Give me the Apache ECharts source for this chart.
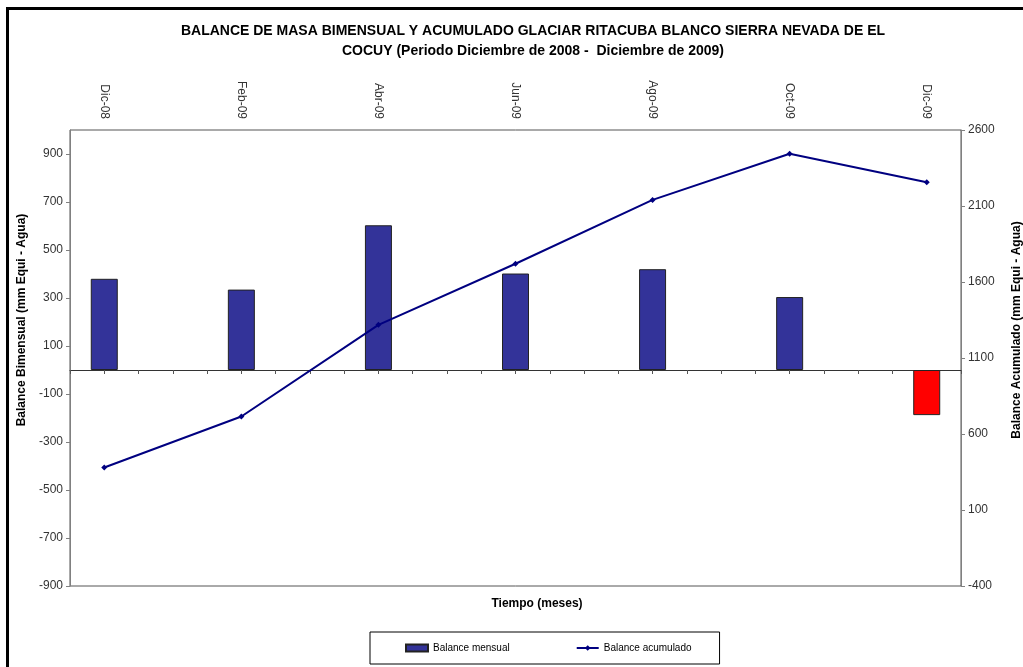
<!DOCTYPE html>
<html>
<head>
<meta charset="utf-8">
<title>Balance de masa Ritacuba Blanco</title>
<script src="https://cdn.jsdelivr.net/npm/echarts@6/dist/echarts.min.js"></script>
<style>
  html, body { margin: 0; padding: 0; background: #fff; }
  #chart { width: 1023px; height: 667px; }
</style>
</head>
<body>
<div id="chart"></div>
<script>
// meses (eje superior), solo se rotulan los bimensuales
const months = ['Dic-08', 'Ene-09', 'Feb-09', 'Mar-09', 'Abr-09', 'May-09', 'Jun-09',
  'Jul-09', 'Ago-09', 'Sep-09', 'Oct-09', 'Nov-09', 'Dic-09'];
// balance bimensual (mm eq. agua)
const balanceMensual = [380, null, 335, null, 603, null, 402, null, 420, null, 304, null, -188];
// balance acumulado (mm eq. agua)
const balanceAcumulado = [380, null, 715, null, 1318, null, 1720, null, 2140, null, 2444, null, 2256];
// marcas de los ejes
const leftTicks = [-900, -700, -500, -300, -100, 100, 300, 500, 700, 900];
const rightTicks = [-400, 100, 600, 1100, 1600, 2100, 2600];

const chart = echarts.init(document.getElementById('chart'));

const labelFont = {fontFamily: 'Liberation Sans, Arial, sans-serif', fontSize: 12, color: '#333'};
const nameFont = {fontFamily: 'Liberation Sans, Arial, sans-serif', fontSize: 12, fontWeight: 'bold', color: '#000'};
const plain = v => String(v);

const option = {
  animation: false,
  backgroundColor: '#fff',
  title: [
    {
      text: 'BALANCE DE MASA BIMENSUAL Y ACUMULADO GLACIAR RITACUBA BLANCO SIERRA NEVADA DE EL\nCOCUY (Periodo Diciembre de 2008 -  Diciembre de 2009)',
      left: 533,
      top: 21,
      padding: 0,
      textAlign: 'center',
      textStyle: {fontFamily: 'Liberation Sans, Arial, sans-serif', fontSize: 14, fontWeight: 'bold', color: '#000', lineHeight: 20}
    },
    {
      text: 'Tiempo (meses)',
      left: 537,
      top: 598,
      padding: 0,
      textAlign: 'center',
      textStyle: nameFont
    }
  ],
  legend: {
    left: 370,
    top: 632,
    padding: [11, 28, 11, 35],
    itemGap: 66,
    itemWidth: 22,
    itemHeight: 7,
    borderColor: '#000',
    borderWidth: 1,
    textStyle: {fontFamily: 'Liberation Sans, Arial, sans-serif', fontSize: 10, color: '#000'},
    data: [{name: 'Balance mensual', icon: 'rect'}, {name: 'Balance acumulado'}]
  },
  grid: {
    left: 70,
    right: 62,
    top: 130,
    bottom: 81,
    outerBoundsMode: 'none',
    show: true,
    borderColor: '#555',
    borderWidth: 1
  },
  graphic: [
    {
      type: 'rect',
      shape: {x: 7.5, y: 8.5, width: 1100, height: 800},
      style: {fill: 'none', stroke: '#000', lineWidth: 3},
      silent: true
    }
  ],
  xAxis: [
    {
      type: 'category',
      data: months,
      position: 'top',
      boundaryGap: true,
      axisLine: {show: false, onZero: false},
      axisTick: {show: false},
      axisLabel: Object.assign({rotate: 90, interval: 1, margin: 11}, labelFont),
      splitLine: {show: false}
    },
    {
      // solo para las marcas sobre la linea del cero
      type: 'category',
      data: Array(26).fill(''),
      position: 'bottom',
      boundaryGap: true,
      axisLine: {show: true, onZero: true, onZeroAxisIndex: 0, lineStyle: {color: '#333', width: 1}},
      axisTick: {show: true, interval: 0, length: 4, lineStyle: {color: '#555'}},
      axisLabel: {show: false},
      splitLine: {show: false}
    }
  ],
  yAxis: [
    {
      type: 'value',
      position: 'left',
      min: -900,
      max: 1000,
      name: 'Balance Bimensual (mm Equi - Agua)',
      nameLocation: 'middle',
      nameRotate: 90,
      nameGap: 42,
      nameTextStyle: Object.assign({padding: [0, 0, 0, 76]}, nameFont),
      axisLine: {show: true, lineStyle: {color: '#808080'}},
      axisTick: {show: true, length: 4, customValues: leftTicks, lineStyle: {color: '#808080'}},
      axisLabel: Object.assign({margin: 7, customValues: leftTicks, formatter: plain}, labelFont),
      splitLine: {show: false}
    },
    {
      type: 'value',
      position: 'right',
      min: -400,
      max: 2600,
      name: 'Balance Acumulado (mm Equi - Agua)',
      nameLocation: 'middle',
      nameRotate: 90,
      nameGap: 50,
      nameTextStyle: Object.assign({padding: [0, 0, 0, 56]}, nameFont),
      axisLine: {show: true, lineStyle: {color: '#808080'}},
      axisTick: {show: true, length: 4, customValues: rightTicks, lineStyle: {color: '#808080'}},
      axisLabel: Object.assign({margin: 7, customValues: rightTicks, formatter: plain}, labelFont),
      splitLine: {show: false}
    }
  ],
  series: [
    {
      name: 'Balance mensual',
      type: 'bar',
      xAxisIndex: 0,
      yAxisIndex: 0,
      barWidth: 27,
      itemStyle: {color: '#333399', borderColor: '#222', borderWidth: 1},
      data: balanceMensual.map(v => (v !== null && v < 0)
        ? {value: v, itemStyle: {color: '#FF0000'}}
        : v)
    },
    {
      name: 'Balance acumulado',
      type: 'line',
      xAxisIndex: 0,
      yAxisIndex: 1,
      connectNulls: true,
      symbol: 'diamond',
      symbolSize: 6,
      lineStyle: {color: '#000080', width: 2},
      itemStyle: {color: '#000080'},
      data: balanceAcumulado
    }
  ]
};

option && chart.setOption(option);
</script>
</body>
</html>
